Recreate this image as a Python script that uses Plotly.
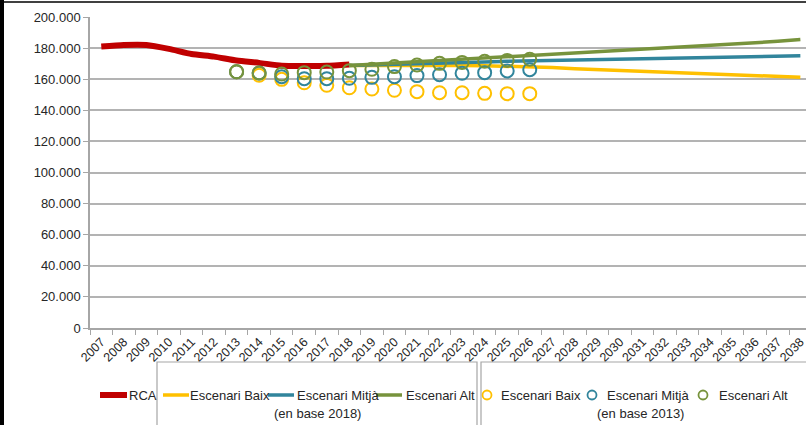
import plotly.graph_objects as go

# Years on the category axis
years = [str(y) for y in range(2007, 2039)]

# RCA (observed)
rca_years = ["2007", "2008", "2009", "2010", "2011", "2012", "2013", "2014", "2015", "2016", "2017", "2018"]
rca = [181000, 182000, 182000, 179500, 176200, 174500, 172000, 170500, 168700, 168500, 168600, 169500]

# Projections en base 2018
proj_years = [str(y) for y in range(2018, 2039)]
baix_2018 = [168800, 168900, 169000, 169000, 168900, 168800, 168600, 168400, 168100, 167600, 166800,
             166200, 165600, 165200, 164700, 164200, 163700, 163000, 162400, 161800, 161200]
mitja_2018 = [168800, 169100, 169500, 169900, 170300, 170700, 171100, 171500, 171800, 172100, 172300,
              172500, 172700, 173000, 173300, 173700, 174100, 174400, 174600, 174900, 175100]
alt_2018 = [168800, 169600, 170400, 171300, 172000, 172800, 173600, 174400, 175100, 175900, 176600,
            177300, 178100, 178900, 179700, 180500, 181400, 182400, 183400, 184400, 185500]

# Projections en base 2013
b13_years = [str(y) for y in range(2013, 2027)]
baix_2013 = [164800, 162500, 159900, 157700, 156100, 154500, 153700, 152900, 152000, 151300, 151300,
             150900, 150700, 150700]
mitja_2013 = [164800, 164000, 161600, 160300, 160300, 160600, 161200, 161600, 162300, 162900, 163800,
              164200, 165300, 166100]
alt_2013 = [164800, 164000, 163300, 164200, 164600, 165500, 166400, 168100, 169100, 170200, 170800,
            171500, 172100, 172800]

labels = ["Escenari Baix", "Escenari Mitjà", "Escenari Alt"]

RED = "#C00000"
YELLOW = "#FFC000"
BLUE = "#31859C"
GREEN = "#77933C"
COLS = [YELLOW, BLUE, GREEN]
FONT = "Liberation Sans Narrow, Arial Narrow, Liberation Sans, Arial"

fig = go.Figure()

fig.add_trace(go.Scatter(x=rca_years, y=rca, mode="lines", name="RCA",
                         line=dict(color=RED, width=6, shape="spline", smoothing=0.6)))

for name, vals, col in zip(labels, [baix_2018, mitja_2018, alt_2018], COLS):
    fig.add_trace(go.Scatter(x=proj_years, y=vals, mode="lines", name=name,
                             line=dict(color=col, width=3.5)))

for name, vals, col in zip(labels, [baix_2013, mitja_2013, alt_2013], COLS):
    fig.add_trace(go.Scatter(x=b13_years, y=vals, mode="markers", name=name,
                             marker=dict(symbol="circle-open", size=13, color=col,
                                         line=dict(color=col, width=2))))

# pixel -> paper helpers (plot area: x 90..806, y 17..328)
L, R, T, B = 90, 0, 17, 97
PW, PH = 806 - L - R, 425 - T - B


def px(x):
    return (x - L) / PW


def py(y):
    return (328 - y) / PH


fig.update_layout(
    width=806, height=425,
    template="none",
    showlegend=False,
    paper_bgcolor="white", plot_bgcolor="white",
    margin=dict(l=L, r=R, t=T, b=B),
    separators=",.",
    font=dict(family=FONT, size=12, color="#262626"),
    xaxis=dict(type="category", categoryorder="array", categoryarray=years,
               range=[-0.5, 31.25], tickson="boundaries", ticks="outside",
               ticklen=5, tickcolor="#A6A6A6", tickangle=-45, showgrid=False,
               showline=True, linecolor="#A6A6A6", linewidth=1.5,
               tickfont=dict(size=12.5, family=FONT)),
    yaxis=dict(range=[0, 200000], dtick=20000, tickformat=",d", ticks="outside",
               ticklen=5, tickcolor="#A6A6A6", showgrid=True, gridcolor="#B3B3B3",
               gridwidth=1.5, showline=True, linecolor="#A6A6A6", linewidth=1.5,
               zeroline=False, tickfont=dict(size=13, family="Liberation Sans, Arial")),
)


def note(text, x, y, xanchor="left"):
    fig.add_annotation(text=text, xref="paper", yref="paper", x=px(x), y=py(y),
                       xanchor=xanchor, yanchor="middle", showarrow=False,
                       font=dict(size=13, family=FONT))


# hand-made legend (two boxed groups, as in the original)
LEG_Y = 395
fig.add_shape(type="line", xref="paper", yref="paper", x0=px(100), x1=px(127),
              y0=py(LEG_Y), y1=py(LEG_Y), line=dict(color=RED, width=6))
note("RCA", 127, LEG_Y)

for lx, tx, name, col in zip([163, 268, 376], [188, 295, 404], labels, COLS):
    fig.add_shape(type="line", xref="paper", yref="paper", x0=px(lx), x1=px(lx + 26),
                  y0=py(LEG_Y), y1=py(LEG_Y), line=dict(color=col, width=3.5))
    note(name, tx, LEG_Y)

for cx, tx, name, col in zip([487, 592, 703], [499, 605, 717], labels, COLS):
    fig.add_shape(type="circle", xref="paper", yref="paper", x0=px(cx - 4.5), x1=px(cx + 4.5),
                  y0=py(LEG_Y + 4.5), y1=py(LEG_Y - 4.5), line=dict(color=col, width=1.8))
    note(name, tx, LEG_Y)

fig.add_shape(type="rect", xref="paper", yref="paper", x0=px(157), x1=px(477),
              y0=py(428), y1=py(362), line=dict(color="#A6A6A6", width=1.2))
fig.add_shape(type="rect", xref="paper", yref="paper", x0=px(481), x1=px(808),
              y0=py(428), y1=py(362), line=dict(color="#A6A6A6", width=1.2))
note("(en base 2018)", 317, 413, "center")
note("(en base 2013)", 640, 413, "center")

# black frame at the left and top edges
fig.add_shape(type="rect", xref="paper", yref="paper", x0=px(0), x1=px(4),
              y0=py(425), y1=py(0), line=dict(width=0), fillcolor="black")
fig.add_shape(type="line", xref="paper", yref="paper", x0=px(0), x1=px(806),
              y0=py(2), y1=py(2), line=dict(color="black", width=1.5))

# drop the browser's default page margin so the figure sits at the window corner
fig.write_html("out.html", config={"displayModeBar": False},
               post_script="document.body.style.margin='0px';")
